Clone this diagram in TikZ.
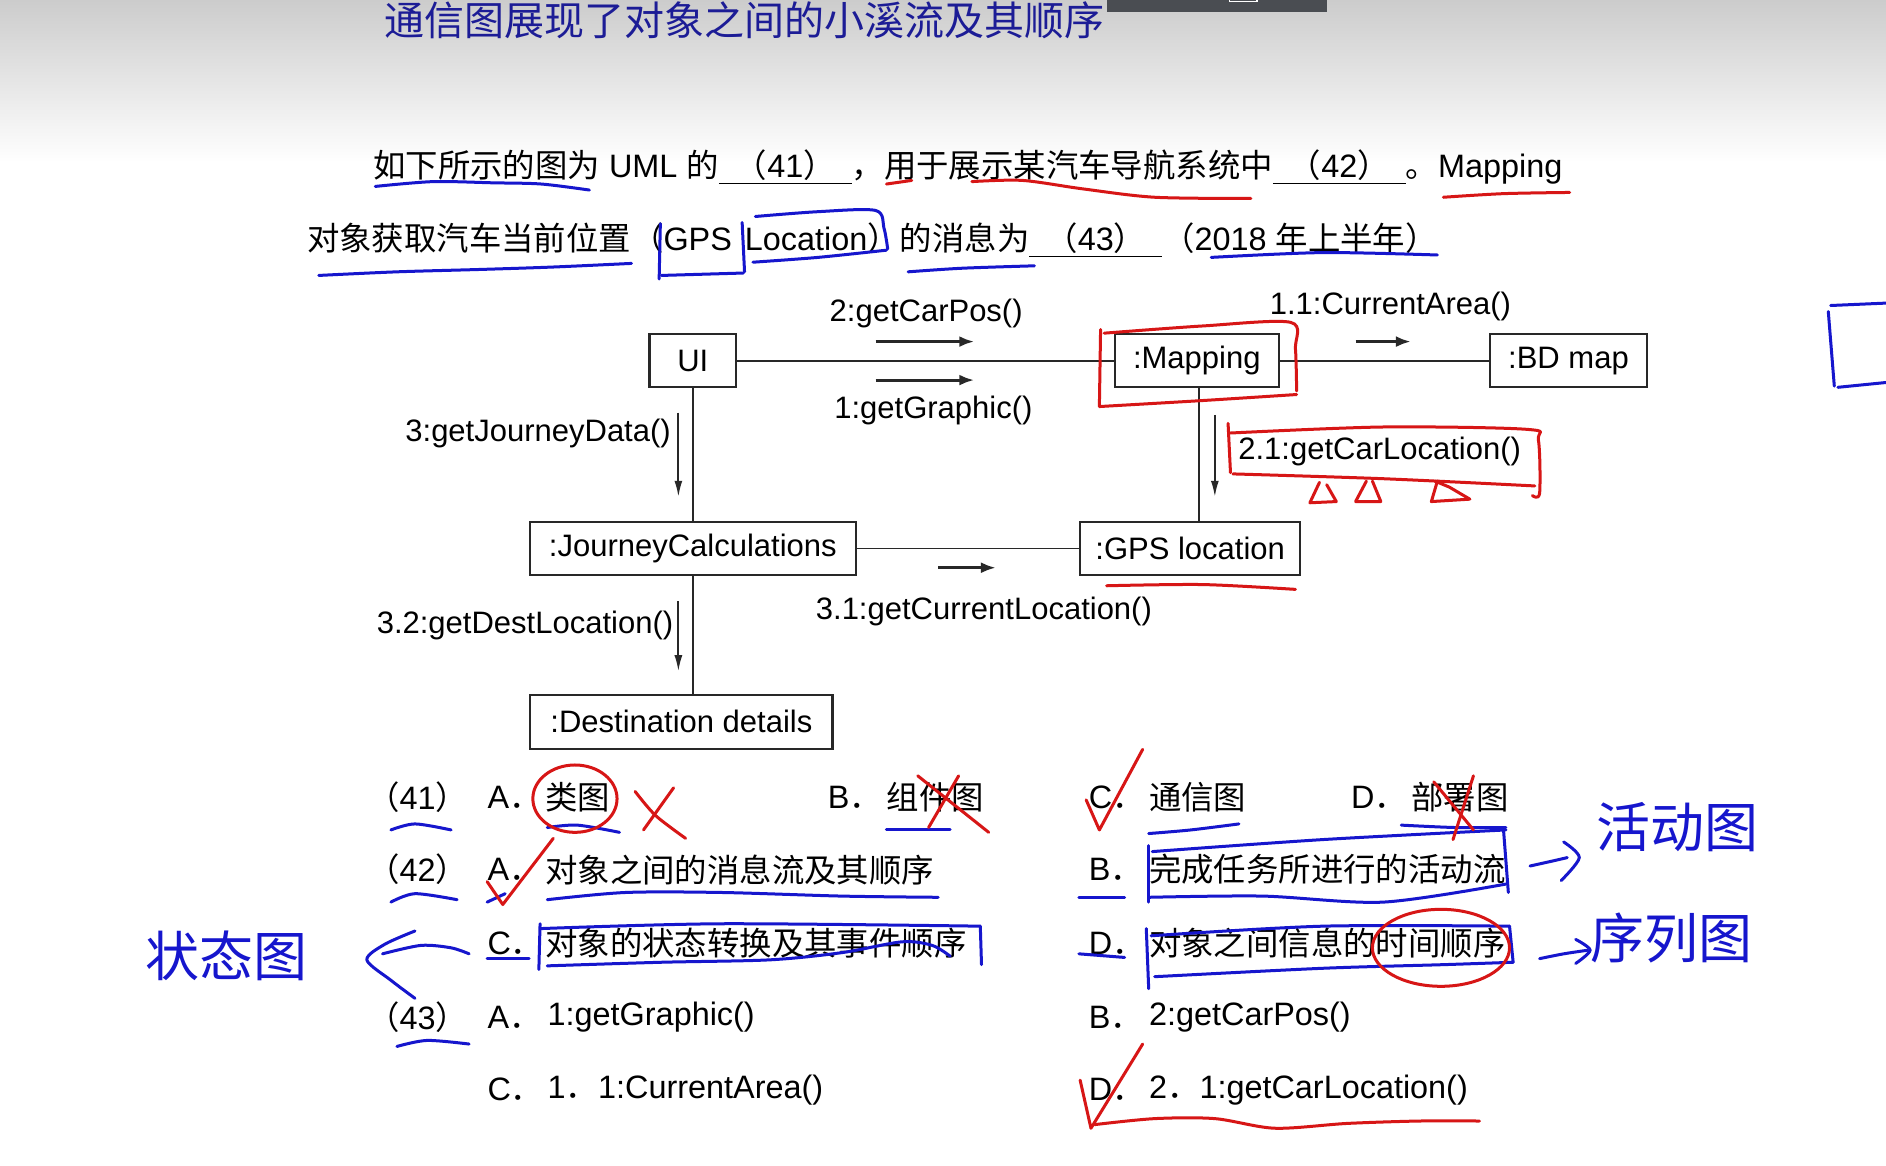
\documentclass[tikz,border=0pt]{standalone}
\usepackage{fontspec}
\setmainfont{Liberation Sans}
\newfontfamily\cjk{Noto Sans CJK SC}
\usetikzlibrary{arrows.meta}
\definecolor{inkLine}{RGB}{40, 40, 40}
\definecolor{titleBlue}{RGB}{28, 28, 150}
\definecolor{penBlue}{RGB}{22, 22, 205}
\definecolor{penRed}{RGB}{215, 22, 22}
\definecolor{barGray}{RGB}{74, 77, 82}
\definecolor{bgTop}{RGB}{204, 204, 204}
\newcommand\blank[1]{\underline{\makebox[4.1em]{{\cjk （}#1{\cjk ）}}}}
\newcommand\optlbl[1]{#1{\cjk ．}}
\tikzset{
  obj/.style={draw=inkLine, line width=1.1pt, fill=white, minimum height=26.5pt, inner sep=0pt,
    font=\fontsize{15.5pt}{17pt}\selectfont},
  link/.style={draw=inkLine, line width=0.9pt},
  msgh/.style={-{Latex[length=7.5pt,width=5.5pt]}, line width=1.5pt, inkLine},
  msgv/.style={-{Latex[length=8pt,width=4pt]}, line width=0.9pt, inkLine},
  lbl/.style={inner sep=0pt, font=\fontsize{15.5pt}{17pt}\selectfont},
  qtext/.style={inner sep=0pt, anchor=west, font=\fontsize{16.2pt}{19pt}\selectfont},
  hand/.style={inner sep=0pt, text=penBlue, font=\cjk\fontsize{27pt}{30pt}\selectfont},
  penblue/.style={draw=penBlue, line width=1.5pt, line cap=round, line join=round},
  penred/.style={draw=penRed, line width=1.5pt, line cap=round, line join=round}
}
\begin{document}
\begin{tikzpicture}[x=0.6014pt, y=-0.6014pt]
\useasboundingbox (0,0) rectangle (1568,969);
\fill[white] (0,0) rectangle (1568,969);
\shade[top color=bgTop, bottom color=white] (0,0) rectangle (1568,135);
\fill[barGray] (920,0) rectangle (1103,10);
\draw[white, line width=0.6pt] (1022,-2) rectangle (1045,1.5);

\node[inner sep=0pt, text=titleBlue, font=\cjk\fontsize{20pt}{22pt}\selectfont] (title) at (619,17)
  {通信图展现了对象之间的小溪流及其顺序};

\node[qtext] (line1) at (310,139)
  {{\cjk 如下所示的图为} UML {\cjk 的}\blank{41}{\cjk ，用于展示某汽车导航系统中}\blank{42}{\cjk 。}Mapping};
\node[qtext] (line2) at (255,200)
  {{\cjk 对象获取汽车当前位置（}GPS\hspace{0.4em}Location{\cjk ）的消息为}\blank{43}{\cjk （}2018 {\cjk 年上半年）}};

% objects
\node[obj, minimum width=43.3pt] (ui) at (576,300) {UI};
\node[obj, minimum width=81.8pt] (map) at (995,300) {:Mapping};
\node[obj, minimum width=78.2pt] (bd) at (1304,300) {:BD map};
\node[obj, minimum width=163pt] (jc) at (576,456) {:JourneyCalculations};
\node[obj, minimum width=110pt] (gps) at (989.5,456) {:GPS location};
\node[obj, minimum width=151pt, minimum height=27pt] (dest) at (566.5,600) {:Destination details};

\draw[link] (ui) -- (map);
\draw[link] (map) -- (bd);
\draw[link] (ui) -- (jc);
\draw[link] (jc) -- (gps);
\draw[link] ([xshift=1pt]map.south) -- ([xshift=1pt]map.south |- gps.north);
\draw[link] (jc.south) -- (jc.south |- dest.north);

% messages
\coordinate (m2a) at (728,284);  \coordinate (m2b) at (810,284);
\coordinate (m1a) at (728,316);  \coordinate (m1b) at (810,316);
\coordinate (m11a) at (1127,284); \coordinate (m11b) at (1173,284);
\coordinate (m3a) at (564,343);  \coordinate (m3b) at (564,413);
\coordinate (m21a) at (1010,345); \coordinate (m21b) at (1010,413);
\coordinate (m31a) at (780,472); \coordinate (m31b) at (828,472);
\coordinate (m32a) at (564,500); \coordinate (m32b) at (564,558);
\draw[msgh] (m2a) -- (m2b);
\draw[msgh] (m1a) -- (m1b);
\draw[msgh] (m11a) -- (m11b);
\draw[msgh] (m31a) -- (m31b);
\draw[msgv] (m3a) -- (m3b);
\draw[msgv] (m21a) -- (m21b);
\draw[msgv] (m32a) -- (m32b);
\node[lbl] (l2) at (770,261) {2:getCarPos()};
\node[lbl] (l1) at (776,341) {1:getGraphic()};
\node[lbl] (l11) at (1156,255) {1.1:CurrentArea()};
\node[lbl, anchor=east] (l3) at (558,360) {3:getJourneyData()};
\node[lbl] (l21) at (1147,375) {2.1:getCarLocation()};
\node[lbl] (l31) at (818,508) {3.1:getCurrentLocation()};
\node[lbl, anchor=east] (l32) at (560,520) {3.2:getDestLocation()};

% questions
\node[qtext] (q41) at (305,663) {{\cjk （}41{\cjk ）}};
\node[qtext] (q41a) at (405,663) {\optlbl{A}};
\node[qtext] (q41at) at (453,663) {\cjk 类图};
\node[qtext] (q41b) at (688,663) {\optlbl{B}};
\node[qtext] (q41bt) at (737,663) {\cjk 组件图};
\node[qtext] (q41c) at (905,663) {\optlbl{C}};
\node[qtext] (q41ct) at (955,663) {\cjk 通信图};
\node[qtext] (q41d) at (1123,663) {\optlbl{D}};
\node[qtext] (q41dt) at (1173,663) {\cjk 部署图};

\node[qtext] (q42) at (305,723) {{\cjk （}42{\cjk ）}};
\node[qtext] (q42a) at (405,723) {\optlbl{A}};
\node[qtext] (q42at) at (453,723) {\cjk 对象之间的消息流及其顺序};
\node[qtext] (q42b) at (905,723) {\optlbl{B}};
\node[qtext] (q42bt) at (955,723) {\cjk 完成任务所进行的活动流};
\node[qtext] (q42c) at (405,784) {\optlbl{C}};
\node[qtext] (q42ct) at (453,784) {\cjk 对象的状态转换及其事件顺序};
\node[qtext] (q42d) at (905,784) {\optlbl{D}};
\node[qtext] (q42dt) at (955,784) {\cjk 对象之间信息的时间顺序};

\node[qtext] (q43) at (305,846) {{\cjk （}43{\cjk ）}};
\node[qtext] (q43a) at (405,846) {\optlbl{A}};
\node[qtext] (q43at) at (455,846) {1:getGraphic()};
\node[qtext] (q43b) at (905,846) {\optlbl{B}};
\node[qtext] (q43bt) at (955,846) {2:getCarPos()};
\node[qtext] (q43c) at (405,906) {\optlbl{C}};
\node[qtext] (q43ct) at (455,906) {1{\cjk ．}1:CurrentArea()};
\node[qtext] (q43d) at (905,906) {\optlbl{D}};
\node[qtext] (q43dt) at (955,906) {2{\cjk ．}1:getCarLocation()};

% handwriting
\node[hand] (hw1) at (1395,688) {活动图};
\node[hand] (hw2) at (1390,780) {序列图};
\node[hand] (hw3) at (188,795) {状态图};

% blue pen marks
\draw[penblue] plot[smooth] coordinates {(312,155) (360,151) (410,152) (450,153) (490,158)};
\draw[penblue] plot[smooth] coordinates {(265,229) (330,226) (400,224) (460,222) (525,219)};
\draw[penblue] (549,186) -- (548,232);
\draw[penblue] (550,229) -- (618,227);
\draw[penblue] (617,185) -- (619,226);
\draw[penblue] plot[smooth] coordinates {(628,180) (680,176) (728,175) (735,190) (738,207)};
\draw[penblue] plot[smooth] coordinates {(626,218) (680,214) (737,208)};
\draw[penblue] plot[smooth] coordinates {(755,226) (800,223) (860,221)};
\draw[penblue] plot[smooth] coordinates {(1007,214) (1100,210) (1195,212)};
\draw[penblue] (1522,254) -- (1568,252);
\draw[penblue] (1520,259) -- (1525,321);
\draw[penblue] (1528,322) -- (1568,318);

\draw[penblue] plot[smooth] coordinates {(325,690) (345,685) (375,690)};
\draw[penblue] plot[smooth] coordinates {(455,688) (480,686) (515,692)};
\draw[penblue] (737,690) -- (790,690);
\draw[penblue] plot[smooth] coordinates {(955,693) (990,690) (1030,685)};
\draw[penblue] plot[smooth] coordinates {(1165,686) (1210,688) (1252,688)};
\draw[penblue] plot[smooth] coordinates {(325,750) (345,743) (380,748)};
\draw[penblue] plot[smooth] coordinates {(405,750) (420,743)};
\draw[penblue] plot[smooth] coordinates {(455,748) (520,742) (600,742) (700,745) (780,746)};
\draw[penblue] (897,746) -- (935,746);
\draw[penblue] (955,703) -- (955,750);
\draw[penblue] plot[smooth] coordinates {(958,708) (1100,698) (1252,690)};
\draw[penblue] (1250,690) -- (1254,742);
\draw[penblue] plot[smooth] coordinates {(955,746) (1050,745) (1150,750) (1252,735)};
\draw[penblue] plot[smooth] coordinates {(1272,720) (1290,716) (1303,713)};
\draw[penblue] plot[smooth] coordinates {(1300,700) (1313,713) (1298,732)};
\draw[penblue] (405,797) -- (440,797);
\draw[penblue] (449,768) -- (448,806);
\draw[penblue] plot[smooth] coordinates {(450,772) (600,768) (815,770)};
\draw[penblue] (815,770) -- (816,802);
\draw[penblue] plot[smooth] coordinates {(455,803) (550,800) (640,798) (700,792) (750,783) (775,786) (790,795)};
\draw[penblue] plot[smooth] coordinates {(345,774) (320,785) (305,798) (325,815) (345,830)};
\draw[penblue] plot[smooth] coordinates {(318,793) (350,786) (375,788) (390,793)};
\draw[penblue] (897,793) -- (935,796);
\draw[penblue] (953,772) -- (955,822);
\draw[penblue] plot[smooth] coordinates {(957,778) (1100,770) (1255,770)};
\draw[penblue] (1255,770) -- (1258,800);
\draw[penblue] plot[smooth] coordinates {(960,812) (1100,805) (1200,802) (1258,800)};
\draw[penblue] plot[smooth] coordinates {(1280,797) (1300,793) (1320,790)};
\draw[penblue] plot[smooth] coordinates {(1310,781) (1322,790) (1310,801)};
\draw[penblue] plot[smooth] coordinates {(330,870) (355,865) (390,868)};

% red pen marks
\draw[penred] (737,153) -- (758,150);
\draw[penred] plot[smooth] coordinates {(808,151) (850,150) (900,157) (960,164) (1040,165)};
\draw[penred] plot[smooth] coordinates {(1200,164) (1250,161) (1305,160)};
\draw[penred] plot[smooth] coordinates {(918,277) (1000,271) (1073,268) (1077,290) (1078,325)};
\draw[penred] plot[smooth] coordinates {(914,338) (1000,333) (1078,328)};
\draw[penred] (915,274) -- (914,338);
\draw[penred] (1021,352) -- (1023,393);
\draw[penred] plot[smooth] coordinates {(1023,360) (1150,355) (1270,357) (1279,366) (1280,410) (1274,412)};
\draw[penred] plot[smooth] coordinates {(1025,394) (1150,398) (1276,404)};
\draw[penred] (1097,401) -- (1089,418) -- (1111,417) -- (1103,403);
\draw[penred] (1136,400) -- (1127,417) -- (1148,417) -- (1141,400);
\draw[penred] (1195,400) -- (1190,417) -- (1222,415) -- (1205,405) -- (1193,400);
\draw[penred] plot[smooth] coordinates {(920,487) (1000,486) (1077,490)};
\draw[penred] (478,664) ellipse [x radius=35, y radius=28];
\draw[penred] plot[smooth] coordinates {(528,658) (545,678) (570,697)};
\draw[penred] (560,655) -- (535,690);
\draw[penred] (763,645) -- (822,692);
\draw[penred] (797,645) -- (772,688);
\draw[penred] (903,665) -- (914,690) -- (950,623);
\draw[penred] (1192,650) -- (1225,690);
\draw[penred] (1225,645) -- (1208,698);
\draw[penred] (405,733) -- (418,752) -- (460,697);
\draw[penred] (1198,788) ellipse [x radius=57, y radius=32];
\draw[penred] (898,898) -- (907,938) -- (950,868);
\draw[penred] plot[smooth] coordinates {(910,935) (960,930) (1010,930) (1060,938) (1120,934) (1180,932) (1230,932)};
\end{tikzpicture}
\end{document}
